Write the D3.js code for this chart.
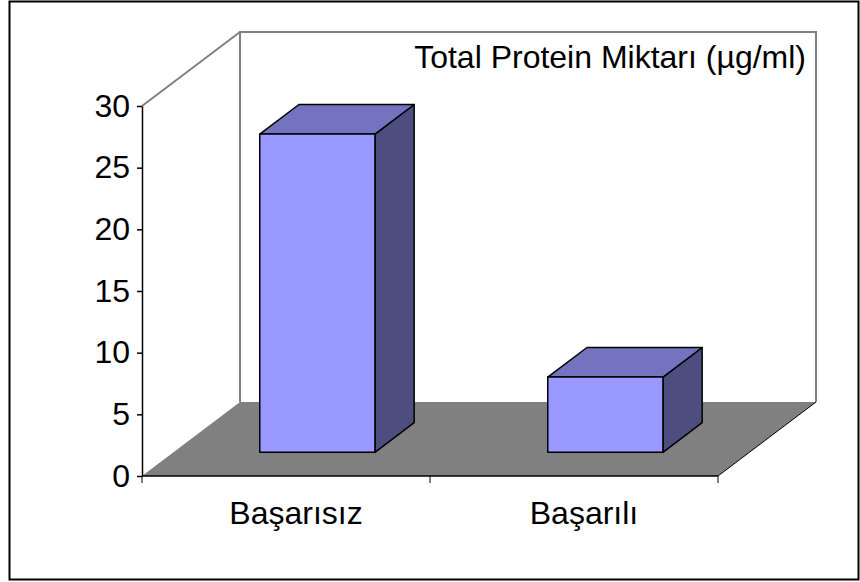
<!DOCTYPE html>
<html>
<head>
<meta charset="utf-8">
<script src="https://d3js.org/d3.v7.min.js"></script>
<style>
  body { margin: 0; background: #fff; }
  text { font-family: "Liberation Sans", Arial, sans-serif; }
</style>
</head>
<body>
<div id="chart"></div>
<script>
    // data
    var categories = ["Başarısız", "Başarılı"];
    var values = [25.8, 6.1];
    var yTicks = [0, 5, 10, 15, 20, 25, 30];
    var title = "Total Protein Miktarı (µg/ml)";

    var W = 860, H = 582;
    // 3d depth offset of the floor / back wall
    var depthX = 98, depthY = 74;
    // bar sits between these depth fractions
    var zFront = 0.32, zBack = 0.72;
    var fontSize = "32px";

    var svg = d3.select("#chart").append("svg")
        .attr("width", W)
        .attr("height", H);

    // outer frame
    svg.append("rect")
        .attr("x", 9.5).attr("y", 1.5)
        .attr("width", 849).attr("height", 578)
        .attr("fill", "none")
        .attr("stroke", "#000")
        .attr("stroke-width", 2);

    var x = d3.scaleBand()
        .domain(categories)
        .range([142, 718])
        .padding(0);

    var y = d3.scaleLinear()
        .domain([0, 30])
        .range([476, 106]);

    // project a point (front-plane x, value, depth fraction) to screen
    function P(px, v, z) {
        return [px + z * depthX, y(v) - z * depthY];
    }
    function poly(pts) {
        return pts.map(function (p) { return p.join(","); }).join(" ");
    }

    var x0 = x.range()[0], x1 = x.range()[1];
    var vMax = y.domain()[1];

    // floor
    svg.append("polygon")
        .attr("points", poly([P(x0, 0, 0), P(x0, 0, 1), P(x1, 0, 1), P(x1, 0, 0)]))
        .attr("fill", "#808080");
    svg.append("line")
        .attr("x1", P(x1, 0, 0)[0]).attr("y1", P(x1, 0, 0)[1])
        .attr("x2", P(x1, 0, 1)[0]).attr("y2", P(x1, 0, 1)[1])
        .attr("stroke", "#000").attr("stroke-width", 1);

    // back wall + side wall edges
    var wall = [P(x0, 0, 1), P(x0, vMax, 1), P(x1, vMax, 1), P(x1, 0, 1)];
    svg.append("polyline")
        .attr("points", poly(wall))
        .attr("fill", "none")
        .attr("stroke", "#808080")
        .attr("stroke-width", 2);
    svg.append("line")
        .attr("x1", P(x0, vMax, 0)[0]).attr("y1", P(x0, vMax, 0)[1])
        .attr("x2", P(x0, vMax, 1)[0]).attr("y2", P(x0, vMax, 1)[1])
        .attr("stroke", "#808080").attr("stroke-width", 2);

    // bars
    var bw = x.bandwidth() * 0.4;
    categories.forEach(function (c, i) {
        var cx = x(c) + x.bandwidth() / 2;
        var l = cx - bw / 2, r = cx + bw / 2, v = values[i];
        var g = svg.append("g")
            .attr("stroke", "#000")
            .attr("stroke-width", 1.5)
            .attr("stroke-linejoin", "round");
        // right side
        g.append("polygon")
            .attr("points", poly([P(r, 0, zFront), P(r, v, zFront), P(r, v, zBack), P(r, 0, zBack)]))
            .attr("fill", "#4D4D80");
        // top
        g.append("polygon")
            .attr("points", poly([P(l, v, zFront), P(l, v, zBack), P(r, v, zBack), P(r, v, zFront)]))
            .attr("fill", "#7373BF");
        // front
        g.append("polygon")
            .attr("points", poly([P(l, 0, zFront), P(l, v, zFront), P(r, v, zFront), P(r, 0, zFront)]))
            .attr("fill", "#9999FF");
    });

    // value axis
    var yAxis = svg.append("g")
        .attr("transform", "translate(" + x0 + ",0)")
        .call(d3.axisLeft(y).tickValues(yTicks).tickSize(5).tickPadding(7).tickSizeOuter(0));
    yAxis.select(".domain").attr("stroke", "#000").attr("stroke-width", 1.5);
    yAxis.selectAll(".tick line").attr("stroke", "#000").attr("stroke-width", 1.5);
    yAxis.selectAll("text")
        .attr("fill", "#000")
        .style("font-size", fontSize)
        .style("font-family", "'Liberation Sans', Arial, sans-serif");

    // category axis on the front floor edge
    svg.append("line")
        .attr("x1", x0).attr("x2", x1)
        .attr("y1", y(0)).attr("y2", y(0))
        .attr("stroke", "#000").attr("stroke-width", 1.5);
    var bounds = categories.map(function (c) { return x(c); }).concat([x1]);
    svg.selectAll(".ctick")
        .data(bounds)
        .enter().append("line")
        .attr("x1", function (d) { return d; })
        .attr("x2", function (d) { return d; })
        .attr("y1", y(0))
        .attr("y2", y(0) + 7)
        .attr("stroke", "#000").attr("stroke-width", 1);
    svg.selectAll(".clabel")
        .data(categories)
        .enter().append("text")
        .attr("x", function (d) { return x(d) + x.bandwidth() / 2 + 10; })
        .attr("y", 524)
        .attr("text-anchor", "middle")
        .style("font-size", fontSize)
        .text(function (d) { return d; });

    // legend-like title in top right
    svg.append("text")
        .attr("x", 806)
        .attr("y", 68)
        .attr("text-anchor", "end")
        .style("font-size", fontSize)
        .text(title);
</script>
</body>
</html>
